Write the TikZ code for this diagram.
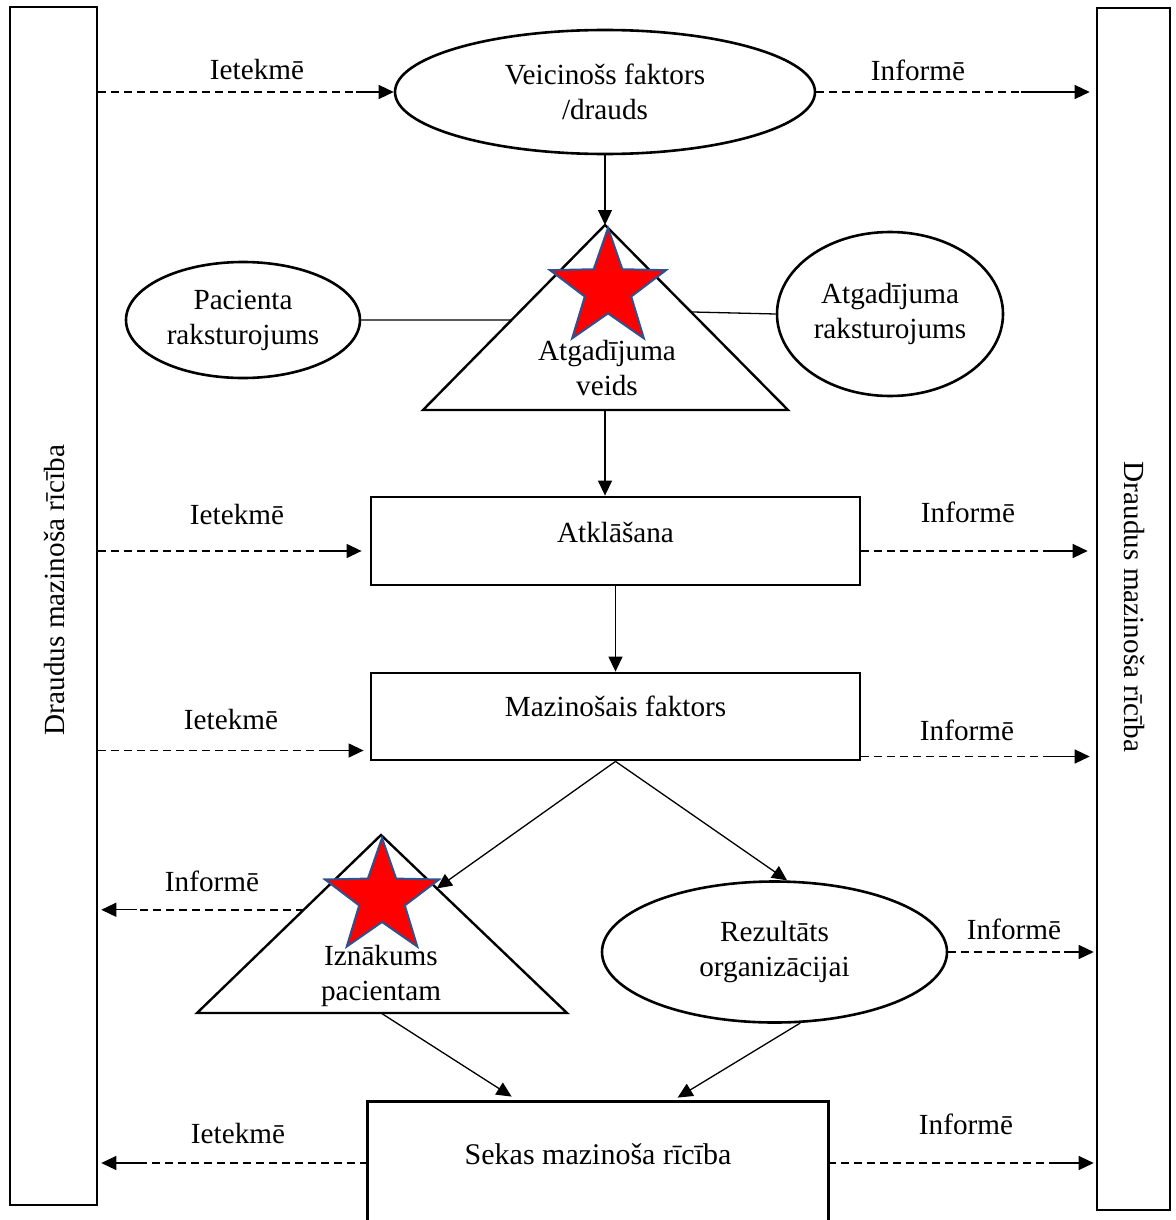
\documentclass[tikz,border=0pt]{standalone}
\usepackage{fontspec}
\setmainfont{Liberation Serif}
\usetikzlibrary{arrows.meta,shapes.geometric,calc}
\definecolor{starred}{RGB}{255,0,0}
\definecolor{starblue}{RGB}{47,82,143}

\tikzset{
  base/.style={font=\fontsize{14.6}{17.5}\selectfont, align=center, inner sep=0pt},
  oval/.style={base, ellipse, draw, line width=1.3pt},
  stagebox/.style={base, rectangle, draw, line width=1.4pt, minimum width=244.5pt, minimum height=44pt},
  sidebar/.style={rectangle, draw, line width=1.3pt, inner sep=0pt},
  lbl/.style={base},
  tip/.style={-{Triangle[length=7.5pt,width=7pt]}, line width=0.65pt},
  link/.style={line width=0.65pt},
  dashln/.style={dash pattern=on 4pt off 2.5pt, line width=0.9pt},
  redstar/.style={star, star points=5, star point ratio=2.5, fill=starred, draw=starblue, line width=1pt, minimum size=61pt, inner sep=0pt},
  tri/.style={line width=1.2pt, line join=miter}
}

\begin{document}
\begin{tikzpicture}[x=0.5pt, y=-0.5pt]
    \useasboundingbox (0,0) rectangle (1175,1220);

    % side bars
    \node[sidebar, minimum width=43.5pt, minimum height=599pt] (lbar) at (53.5,606) {};
    \node[base, rotate=90] (ltxt) at (54,590) {Draudus mazinoša rīcība};
    \node[sidebar, minimum width=36.5pt, minimum height=601pt] (rbar) at (1133.5,609) {};
    \node[base, rotate=-90] (rtxt) at (1134,607) {Draudus mazinoša rīcība};

    % top row
    \node[oval, minimum width=210pt, minimum height=62pt] (drauds) at (605,92) {Veicinošs faktors\\/drauds};
    \node[oval, minimum width=117pt, minimum height=58pt] (pacient) at (243,320) {Pacienta\\raksturojums};
    \node[oval, minimum width=113pt, minimum height=82pt] (araks) at (890,314) {Atgadījuma\\raksturojums};

    \coordinate (t1top) at (605,225);
    \coordinate (t1left) at (423,410);
    \coordinate (t1right) at (788,410);
    \draw[tri] (t1top) -- (t1left) -- (t1right) -- cycle;
    \node[redstar] (star1) at (608,289) {};
    \node[base] (veids) at (607,368) {Atgadījuma\\veids};

    % middle boxes
    \node[stagebox, text height=10pt, text depth=8.4pt] (atkl) at (615.5,541) {Atklāšana};
    \node[stagebox, minimum height=43.5pt, text height=10pt, text depth=10pt] (mazin) at (615.5,716.5) {Mazinošais faktors};

    % outcomes
    \coordinate (t2top) at (381,835);
    \coordinate (t2left) at (197,1013);
    \coordinate (t2right) at (567,1013);
    \draw[tri] (t2top) -- (t2left) -- (t2right) -- cycle;
    \node[redstar, minimum size=60pt] (star2) at (382,898) {};
    \node[base] (iznak) at (381,976) {Iznākums\\pacientam};
    \node[oval, minimum width=172.5pt, minimum height=70.5pt] (rez) at (774.5,952) {Rezultāts\\organizācijai};

    % bottom box, open below
    \node[base, font=\fontsize{15}{18}\selectfont, minimum width=230pt, minimum height=61pt, text height=10pt, text depth=8.4pt] (sekas) at (598,1163) {Sekas mazinoša rīcība};
    \draw[line width=1.4pt] (sekas.south west) -- (sekas.north west) -- (sekas.north east) -- (sekas.south east);

    % solid connectors
    \draw[tip] (drauds.south) -- (t1top);
    \draw[link] (pacient.east) -- ($(t1top)!0.514!(t1left)$);
    \draw[link] (araks.west) -- ($(t1top)!0.47!(t1right)$);
    \draw[tip] (t1top|-t1left) -- (t1top|-atkl.north);
    \draw[tip] (atkl.south) -- (mazin.north);
    \draw[tip] (mazin.south) -- ($(t2top)!0.3!(t2right)$);
    \draw[tip] (mazin.south) -- (rez.80);
    \draw[tip] (t2top|-t2left) -- ($(sekas.north west)+(144,-5)$);
    \draw[tip] (rez.-70) -- ($(sekas.north west)+(310,-4)$);

    % dashed connectors
    \coordinate (atklin) at ([yshift=-5pt]atkl.west);
    \coordinate (atklout) at ([yshift=-5pt]atkl.east);
    \coordinate (mazinin) at ([yshift=-17pt]mazin.west);
    \coordinate (mazinout) at ([yshift=-20pt]mazin.east);
    \coordinate (iznout) at ($(t2top)!0.42!(t2left)$);

    \draw[dashln] (lbar.east|-drauds.west) -- ++(258,0) edge[solid,tip] (drauds.west);
    \draw[dashln] (drauds.east) -- ++(205,0) edge[solid,tip,shorten >=3pt] (drauds.east-|rbar.west);
    \draw[dashln] (lbar.east|-atklin) -- ++(228,0) edge[solid,tip,shorten >=4pt] (atklin);
    \draw[dashln] (atklout) -- ++(190,0) edge[solid,tip,shorten >=4pt] (atklout-|rbar.west);
    \draw[dashln] (lbar.east|-mazinin) -- ++(228,0) edge[solid,tip,shorten >=3pt] (mazinin);
    \draw[dashln] (mazinout) -- ++(190,0) edge[solid,tip,shorten >=3pt] (mazinout-|rbar.west);
    \draw[dashln] (iznout) -- ++(-167,0) edge[solid,tip,shorten >=1.5pt] (iznout-|lbar.east);
    \draw[dashln] (rez.east) -- ++(116,0) edge[solid,tip,shorten >=1pt] (rez.east-|rbar.west);
    \draw[dashln] (sekas.west) -- ++(-228,0) edge[solid,tip,shorten >=1.5pt] (sekas.west-|lbar.east);
    \draw[dashln] (sekas.east) -- ++(222,0) edge[solid,tip,shorten >=1pt] (sekas.east-|rbar.west);

    % labels
    \node[lbl] (ietek1) at (257,70) {Ietekmē};
    \node[lbl] (inf1) at (918,70) {Informē};
    \node[lbl] (ietek2) at (237,515) {Ietekmē};
    \node[lbl] (inf2) at (968,512) {Informē};
    \node[lbl] (ietek3) at (231,720) {Ietekmē};
    \node[lbl] (inf3) at (967,730) {Informē};
    \node[lbl] (inf4) at (212,881) {Informē};
    \node[lbl] (inf5) at (1014,929) {Informē};
    \node[lbl] (ietek4) at (238,1133) {Ietekmē};
    \node[lbl] (inf6) at (966,1124) {Informē};
\end{tikzpicture}
\end{document}
